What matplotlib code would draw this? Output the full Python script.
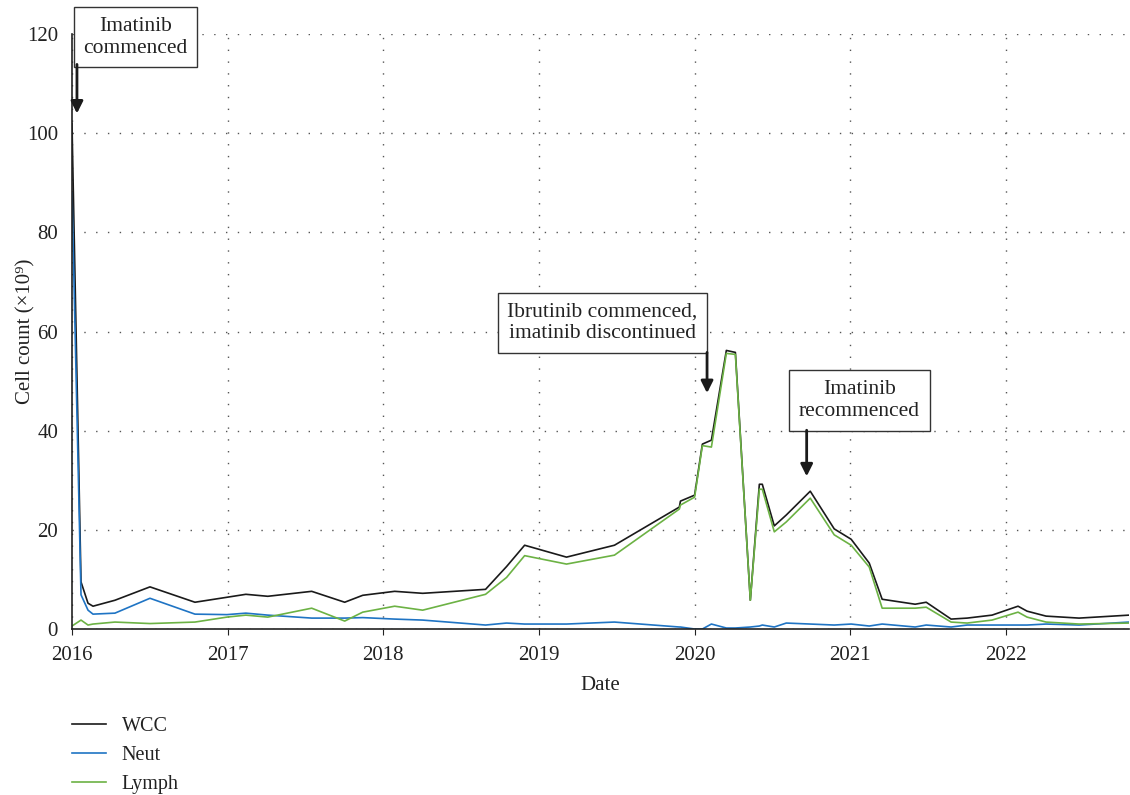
import matplotlib
matplotlib.use("Agg")
import matplotlib.pyplot as plt

plt.rcParams['font.family'] = ['Liberation Serif', 'DejaVu Serif']

# decimal years of each blood count
dates = [2016.000, 2016.058, 2016.103, 2016.135, 2016.276, 2016.501, 2016.790,
         2016.995, 2017.117, 2017.258, 2017.540, 2017.752, 2017.868, 2018.073,
         2018.253, 2018.657, 2018.792, 2018.908, 2019.177, 2019.485, 2019.902,
         2019.909, 2020.000, 2020.050, 2020.108, 2020.204, 2020.262, 2020.358,
         2020.416, 2020.435, 2020.512, 2020.589, 2020.743, 2020.897, 2021.006,
         2021.122, 2021.205, 2021.417, 2021.488, 2021.648, 2021.751, 2021.911,
         2022.078, 2022.136, 2022.258, 2022.470, 2022.791]

wcc = [102, 9.5, 5.2, 4.6, 5.8, 8.5, 5.4,
       6.4, 7.0, 6.6, 7.6, 5.4, 6.8, 7.6,
       7.2, 8.0, 12.6, 16.9, 14.5, 16.9, 24.6,
       25.8, 27.0, 37.3, 38.1, 56.2, 55.8, 5.8,
       29.2, 29.2, 20.8, 23.0, 27.8, 20.2, 18.1,
       13.3, 6.0, 5.0, 5.4, 2.0, 2.2, 2.8,
       4.6, 3.6, 2.6, 2.2, 2.8]

neut = [88, 6.9, 3.8, 3.0, 3.2, 6.2, 3.0,
        2.9, 3.2, 2.8, 2.2, 2.2, 2.3, 2.0,
        1.8, 0.8, 1.2, 1.0, 1.0, 1.4, 0.4,
        0.4, 0.0, 0.0, 1.0, 0.2, 0.2, 0.4,
        0.6, 0.8, 0.4, 1.2, 1.0, 0.8, 1.0,
        0.6, 1.0, 0.4, 0.8, 0.4, 0.8, 0.8,
        0.8, 0.8, 1.0, 0.8, 1.4]

lymph = [0.6, 1.8, 0.8, 1.0, 1.4, 1.1, 1.4,
         2.4, 2.8, 2.4, 4.2, 1.6, 3.4, 4.6,
         3.8, 7.0, 10.4, 14.8, 13.1, 14.9, 24.2,
         25.0, 26.6, 37.0, 36.7, 55.6, 55.4, 5.8,
         28.2, 28.2, 19.6, 21.6, 26.4, 19.0, 16.9,
         12.5, 4.2, 4.2, 4.4, 1.4, 1.2, 1.8,
         3.4, 2.4, 1.4, 1.0, 1.2]

years = [2016, 2017, 2018, 2019, 2020, 2021, 2022]
yticks = [0, 20, 40, 60, 80, 100, 120]

# (label, text centre, arrow x, arrow start y, arrow end y)
events = [
    ("Imatinib\ncommenced", (2016.408, 119.4), 2016.032, 113.9, 104.0),
    ("Ibrutinib commenced,\nimatinib discontinued", (2019.408, 61.8), 2020.08, 55.8, 47.6),
    ("Imatinib\nrecommenced", (2021.06, 46.1), 2020.72, 40.1, 30.8),
]

fig = plt.figure(figsize=(11.3, 7.95), dpi=100)
ax = fig.add_axes([0.0637, 0.2088, 0.9353, 0.7482])

ax.plot(dates, wcc, color='#1a1a1a', lw=1.2, label='WCC')
ax.plot(dates, neut, color='#1f74c4', lw=1.2, label='Neut')
ax.plot(dates, lymph, color='#6cb244', lw=1.2, label='Lymph')

ax.set_xlim(2016, 2022.79)
ax.set_ylim(0, 120)
ax.set_xticks(years)
ax.set_xticklabels([str(y) for y in years])
ax.set_yticks(yticks)

for s in ['top', 'right']:
    ax.spines[s].set_visible(False)
for s in ['left', 'bottom']:
    ax.spines[s].set_color('#222222')
    ax.spines[s].set_linewidth(1.2)

ax.grid(True, linestyle=(0, (1, 7.5)), color='#555555', lw=1)
ax.tick_params(axis='x', direction='out', length=4, labelsize=15, pad=8, colors='#222222')
ax.tick_params(axis='y', length=0, labelsize=15, pad=10, colors='#222222')

ax.set_xlabel('Date', fontsize=15, color='#222222', labelpad=8)
ax.set_ylabel('Cell count (×10⁹)', fontsize=15, color='#222222')
ax.yaxis.set_label_coords(-0.035, 0.5)

for label, (tx, ty), axx, y0, y1 in events:
    ax.text(tx, ty, label, ha='center', va='center', fontsize=15.5, color='#222222',
            linespacing=1.2, clip_on=False, zorder=5,
            bbox=dict(boxstyle='square,pad=0.45', fc='white', ec='#333333', lw=1))
    ax.annotate('', xy=(axx, y1), xytext=(axx, y0),
                arrowprops=dict(arrowstyle='-|>', color='#1a1a1a', lw=2,
                                mutation_scale=18, shrinkA=0, shrinkB=0),
                annotation_clip=False, zorder=6)

fig.legend(loc='upper left', bbox_to_anchor=(0.048, 0.121), frameon=False,
           fontsize=14.5, handlelength=1.65, handletextpad=0.8, labelspacing=0.5,
           labelcolor='#222222')

fig.savefig('out.png', dpi=100)
